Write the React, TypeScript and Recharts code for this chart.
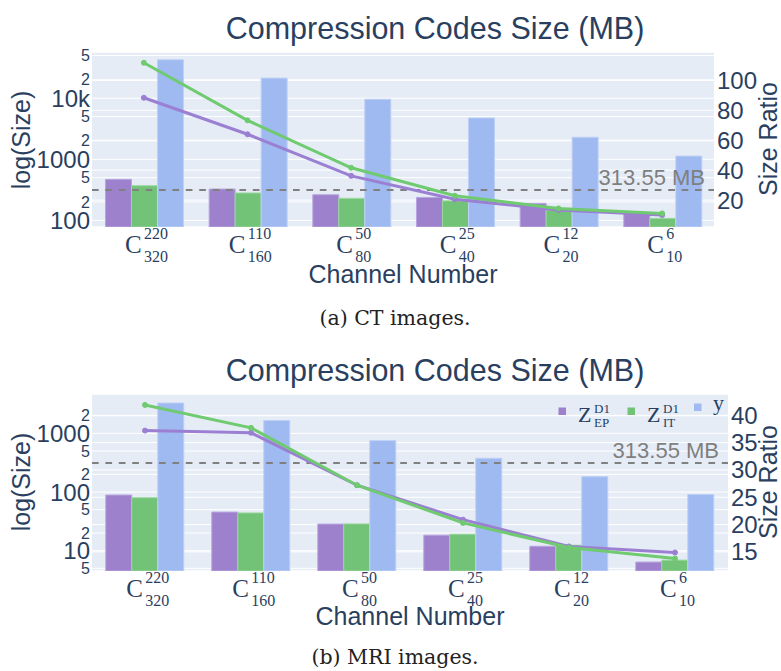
import React from "react";
import {
  ComposedChart,
  Bar,
  Line,
  XAxis,
  YAxis,
  CartesianGrid,
  ReferenceLine,
} from "recharts";

const channelSup = ["220", "110", "50", "25", "12", "6"];
const channelSub = ["320", "160", "80", "40", "20", "10"];
const categories = channelSup.map((s, i) => `C${s}_${channelSub[i]}`);

// CT images
const ctEP = [470, 326, 263, 238, 190, 130];
const ctIT = [369, 281, 230, 209, 148, 108];
const ctY = [42500, 21300, 9600, 4750, 2300, 1130];
const ctRatioEP = [88.4, 64, 36.2, 20.5, 13.3, 10];
const ctRatioIT = [111.8, 73.3, 41.6, 22.9, 14.4, 11.1];
const ctLogTicks = [100, 200, 500, 1000, 2000, 5000, 10000, 20000, 50000];
const ctRatioTicks = [20, 40, 60, 80, 100];

// MRI images
const mriEP = [89, 45.5, 28.4, 18.4, 11.9, 6.4];
const mriIT = [80, 44, 28.6, 19.1, 12.4, 6.9];
const mriY = [3300, 1660, 753, 377, 183, 91];
const mriRatioEP = [37.2, 36.8, 27.2, 20.9, 16.0, 14.9];
const mriRatioIT = [41.9, 37.7, 27.2, 20.3, 15.8, 13.8];
const mriLogTicks = [5, 10, 20, 50, 100, 200, 500, 1000, 2000];
const mriRatioTicks = [15, 20, 25, 30, 35, 40];

const threshold = 313.55;

const TEXT = "#2a3f5f";
const FONT = '"Liberation Sans", Arial, sans-serif';
const SERIF = '"Liberation Serif", "Times New Roman", serif';
const PURPLE = "#9e81cd";
const GREEN = "#72c377";
const BLUE = "#9fb9f1";
const PURPLE_LINE = "#9b7fd2";
const GREEN_LINE = "#6fca70";

const buildRows = (ep: number[], it: number[], y: number[], rEP: number[], rIT: number[]) =>
  categories.map((cat, i) => ({ cat, ep: ep[i], it: it[i], y: y[i], rEP: rEP[i], rIT: rIT[i] }));

const ctData = buildRows(ctEP, ctIT, ctY, ctRatioEP, ctRatioIT);
const mriData = buildRows(mriEP, mriIT, mriY, mriRatioEP, mriRatioIT);

function LogTick({ x, y, payload }: any) {
  const v = payload.value;
  const lead = v / Math.pow(10, Math.floor(Math.log10(v) + 1e-9));
  const major = Math.abs(lead - 1) < 1e-6;
  const label = major ? (v >= 10000 ? `${v / 1000}k` : String(v)) : String(Math.round(lead));
  return (
    <text x={x} y={y} dy={major ? 8.5 : 5.5} textAnchor="end" fill={TEXT} fontFamily={FONT} fontSize={major ? 24 : 16}>
      {label}
    </text>
  );
}

function RatioTick({ x, y, payload }: any) {
  return (
    <text x={x} y={y} dy={8.5} textAnchor="start" fill={TEXT} fontFamily={FONT} fontSize={24}>
      {payload.value}
    </text>
  );
}

function ChannelTick({ x, y, payload }: any) {
  const i = categories.indexOf(payload.value);
  const sup = channelSup[i];
  const sub = channelSub[i];
  const w = 17 + Math.max(sup.length, sub.length) * 7.5;
  const x0 = x - w / 2 + 1;
  return (
    <g fill={TEXT} fontFamily={SERIF}>
      <text x={x0} y={y + 26} fontSize={25}>C</text>
      <text x={x0 + 19} y={y + 12} fontSize={16}>{sup}</text>
      <text x={x0 + 19} y={y + 35} fontSize={16}>{sub}</text>
    </g>
  );
}

function ThresholdLabel({ viewBox }: any) {
  return (
    <text
      x={viewBox.x + viewBox.width - 9}
      y={viewBox.y - 5}
      textAnchor="end"
      fill="#7f7f7f"
      fontFamily={FONT}
      fontSize={22}
    >
      313.55 MB
    </text>
  );
}

interface PanelProps {
  data: any[];
  logDomain: [number, number];
  logTicks: number[];
  ratioDomain: [number, number];
  ratioTicks: number[];
  margin: { top: number; right: number; bottom: number; left: number };
}

function Panel({ data, logDomain, logTicks, ratioDomain, ratioTicks, margin }: PanelProps) {
  return (
    <ComposedChart width={781} height={290} data={data} margin={margin} barCategoryGap="13%" barGap={0}>
      <CartesianGrid yAxisId="left" vertical={false} stroke="#ffffff" strokeWidth={1} fill="#e5ecf6" fillOpacity={1} />
      <CartesianGrid yAxisId="right" vertical={false} stroke="#ffffff" strokeWidth={1} />
      <XAxis dataKey="cat" height={30} axisLine={false} tickLine={false} tickSize={0} tickMargin={0} interval={0} tick={<ChannelTick />} />
      <YAxis
        yAxisId="left"
        type="number"
        scale="log"
        domain={logDomain}
        allowDataOverflow
        ticks={logTicks}
        interval={0}
        width={60}
        axisLine={false}
        tickLine={false}
        tickSize={0}
        tickMargin={2}
        tick={<LogTick />}
      />
      <YAxis
        yAxisId="right"
        orientation="right"
        type="number"
        domain={ratioDomain}
        allowDataOverflow
        ticks={ratioTicks}
        interval={0}
        width={50}
        axisLine={false}
        tickLine={false}
        tickSize={0}
        tickMargin={3}
        tick={<RatioTick />}
      />
      <Bar yAxisId="left" dataKey="ep" fill={PURPLE} stroke="#b9a5df" strokeWidth={1} isAnimationActive={false} />
      <Bar yAxisId="left" dataKey="it" fill={GREEN} stroke="#9bd79e" strokeWidth={1} isAnimationActive={false} />
      <Bar yAxisId="left" dataKey="y" fill={BLUE} stroke="#bfd0f6" strokeWidth={1} isAnimationActive={false} />
      <ReferenceLine
        yAxisId="left"
        y={threshold}
        stroke="#808080"
        strokeWidth={2}
        strokeDasharray="6.7 6.7"
        label={<ThresholdLabel />}
      />
      <Line
        yAxisId="right"
        dataKey="rEP"
        stroke={PURPLE_LINE}
        strokeWidth={3}
        dot={{ r: 2.5, fill: PURPLE_LINE, stroke: PURPLE_LINE, strokeWidth: 1 }}
        activeDot={false}
        isAnimationActive={false}
      />
      <Line
        yAxisId="right"
        dataKey="rIT"
        stroke={GREEN_LINE}
        strokeWidth={3}
        dot={{ r: 2.5, fill: GREEN_LINE, stroke: GREEN_LINE, strokeWidth: 1 }}
        activeDot={false}
        isAnimationActive={false}
      />
    </ComposedChart>
  );
}

function LegendZ({ x, sup, sub }: { x: number; sup: string; sub: string }) {
  return (
    <g fill={TEXT} fontFamily={SERIF}>
      <text x={x} y={422} fontSize={22}>Z</text>
      <text x={x + 16} y={413} fontSize={13}>{sup}</text>
      <text x={x + 16} y={427} fontSize={13}>{sub}</text>
    </g>
  );
}

export default function App() {
  return (
    <div style={{ position: "absolute", left: 0, top: 0, width: 781, height: 671, background: "#fff" }}>
      <div style={{ position: "absolute", left: 0, top: 0 }}>
        <Panel
          data={ctData}
          logDomain={[78, 57000]}
          logTicks={ctLogTicks}
          ratioDomain={[2, 119]}
          ratioTicks={ctRatioTicks}
          margin={{ top: 52, right: 17, bottom: 33, left: 32 }}
        />
      </div>
      <div style={{ position: "absolute", left: 0, top: 340 }}>
        <Panel
          data={mriData}
          logDomain={[4.5, 4700]}
          logTicks={mriLogTicks}
          ratioDomain={[11.5, 43.9]}
          ratioTicks={mriRatioTicks}
          margin={{ top: 54, right: 3, bottom: 29, left: 32 }}
        />
      </div>
      <svg width={781} height={671} style={{ position: "absolute", left: 0, top: 0, pointerEvents: "none" }}>
        <g fill={TEXT} fontFamily={FONT}>
          <text x={435} y={39} textAnchor="middle" fontSize={30.5}>Compression Codes Size (MB)</text>
          <text x={435} y={381} textAnchor="middle" fontSize={30.5}>Compression Codes Size (MB)</text>
          <text x={403} y={283} textAnchor="middle" fontSize={25}>Channel Number</text>
          <text x={410} y={625} textAnchor="middle" fontSize={25}>Channel Number</text>
          <text transform="translate(30,140) rotate(-90)" textAnchor="middle" fontSize={25}>log(Size)</text>
          <text transform="translate(30,482) rotate(-90)" textAnchor="middle" fontSize={25}>log(Size)</text>
          <text transform="translate(777,139) rotate(-90)" textAnchor="middle" fontSize={25}>Size Ratio</text>
          <text transform="translate(777,482) rotate(-90)" textAnchor="middle" fontSize={25}>Size Ratio</text>
        </g>
        <rect x={558.5} y={407.5} width={7.5} height={7.5} fill={PURPLE} />
        <LegendZ x={578} sup="D1" sub="EP" />
        <rect x={627.5} y={407.5} width={7.5} height={7.5} fill={GREEN} />
        <LegendZ x={647} sup="D1" sub="IT" />
        <rect x={694} y={403.5} width={7.5} height={7.5} fill={BLUE} />
        <text x={713} y={410} fill={TEXT} fontFamily={SERIF} fontSize={22}>y</text>
        <g fill="#222" fontFamily='"DejaVu Serif", serif' fontSize={20.5} style={{ whiteSpace: "pre" }}>
          <text x={395} y={325} textAnchor="middle">(a)  CT images.</text>
          <text x={395} y={664} textAnchor="middle">(b)  MRI images.</text>
        </g>
      </svg>
    </div>
  );
}
